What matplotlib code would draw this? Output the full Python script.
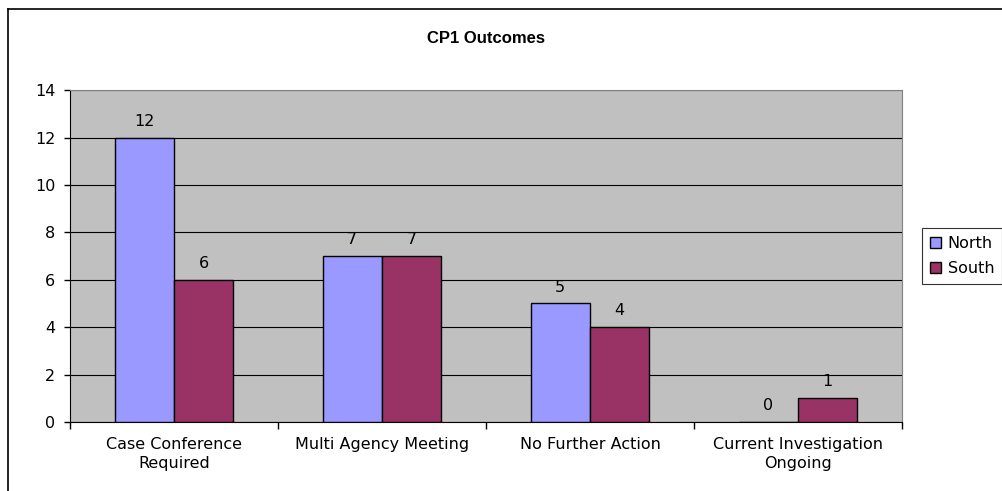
import numpy as np
import matplotlib.pyplot as plt
from matplotlib.lines import Line2D

# Données du graphique
categories = ["Case Conference\nRequired", "Multi Agency Meeting",
              "No Further Action", "Current Investigation\nOngoing"]
north = [12, 7, 5, 0]
south = [6, 7, 4, 1]
series_names = ["North", "South"]

plt.rcParams['font.family'] = ['DejaVu Sans']

fig = plt.figure(figsize=(10.03, 4.91), dpi=100)
ax = fig.add_axes([0.0698, 0.1405, 0.8295, 0.676])
ax.set_facecolor("#C0C0C0")

x = np.arange(len(categories))
w = 1 / 3.5

b1 = ax.bar(x - w / 2, north, w, color="#9999FF", edgecolor="black",
            linewidth=1, label=series_names[0], zorder=3)
b2 = ax.bar(x + w / 2, south, w, color="#993366", edgecolor="black",
            linewidth=1, label=series_names[1], zorder=3)

for bars in (b1, b2):
    for r in bars:
        ax.text(r.get_x() + r.get_width() / 2, r.get_height() + 0.5,
                f"{int(r.get_height())}", ha="center", va="baseline",
                fontsize=11.5)

ax.set_xlim(-0.5, len(categories) - 0.5)
ax.set_ylim(0, 14)
ax.set_yticks(range(0, 15, 2))
ax.yaxis.grid(True, color="black", linewidth=0.8, zorder=0)
ax.set_axisbelow(True)

ax.set_xticks(x)
ax.set_xticklabels(categories, fontsize=11.5, linespacing=1.3)
ax.set_xticks(np.arange(-0.5, len(categories), 1), minor=True)
ax.tick_params(axis="x", which="major", length=0, pad=11)
ax.tick_params(axis="x", which="minor", length=5, width=1, direction="out")
ax.tick_params(axis="y", length=4.5, width=1, labelsize=11.5, pad=6)

ax.spines["left"].set_color("black")
ax.spines["bottom"].set_color("black")
ax.spines["right"].set_color("#808080")
ax.spines["top"].set_color("#808080")

fig.text(486 / 1003, 1 - 43 / 491, "CP1 Outcomes", ha="center",
         va="baseline", fontsize=12, fontweight="bold",
         family="Liberation Sans")

leg = ax.legend(loc="upper left", bbox_to_anchor=(922 / 1003, 1 - 228 / 491),
                bbox_transform=fig.transFigure, fontsize=11.5,
                frameon=True, fancybox=False, edgecolor="black",
                handlelength=0.7, handleheight=0.7, handletextpad=0.4,
                borderpad=0.5, labelspacing=0.65, borderaxespad=0)
leg.get_frame().set_linewidth(0.8)

# Bordure extérieure de la zone du graphique
fig.add_artist(Line2D([8 / 1003, 8 / 1003], [0, 1 - 9 / 491],
                      color="black", linewidth=1.2))
fig.add_artist(Line2D([8 / 1003, 1], [1 - 9 / 491, 1 - 9 / 491],
                      color="black", linewidth=1.2))

fig.savefig("out.png", dpi=100)
